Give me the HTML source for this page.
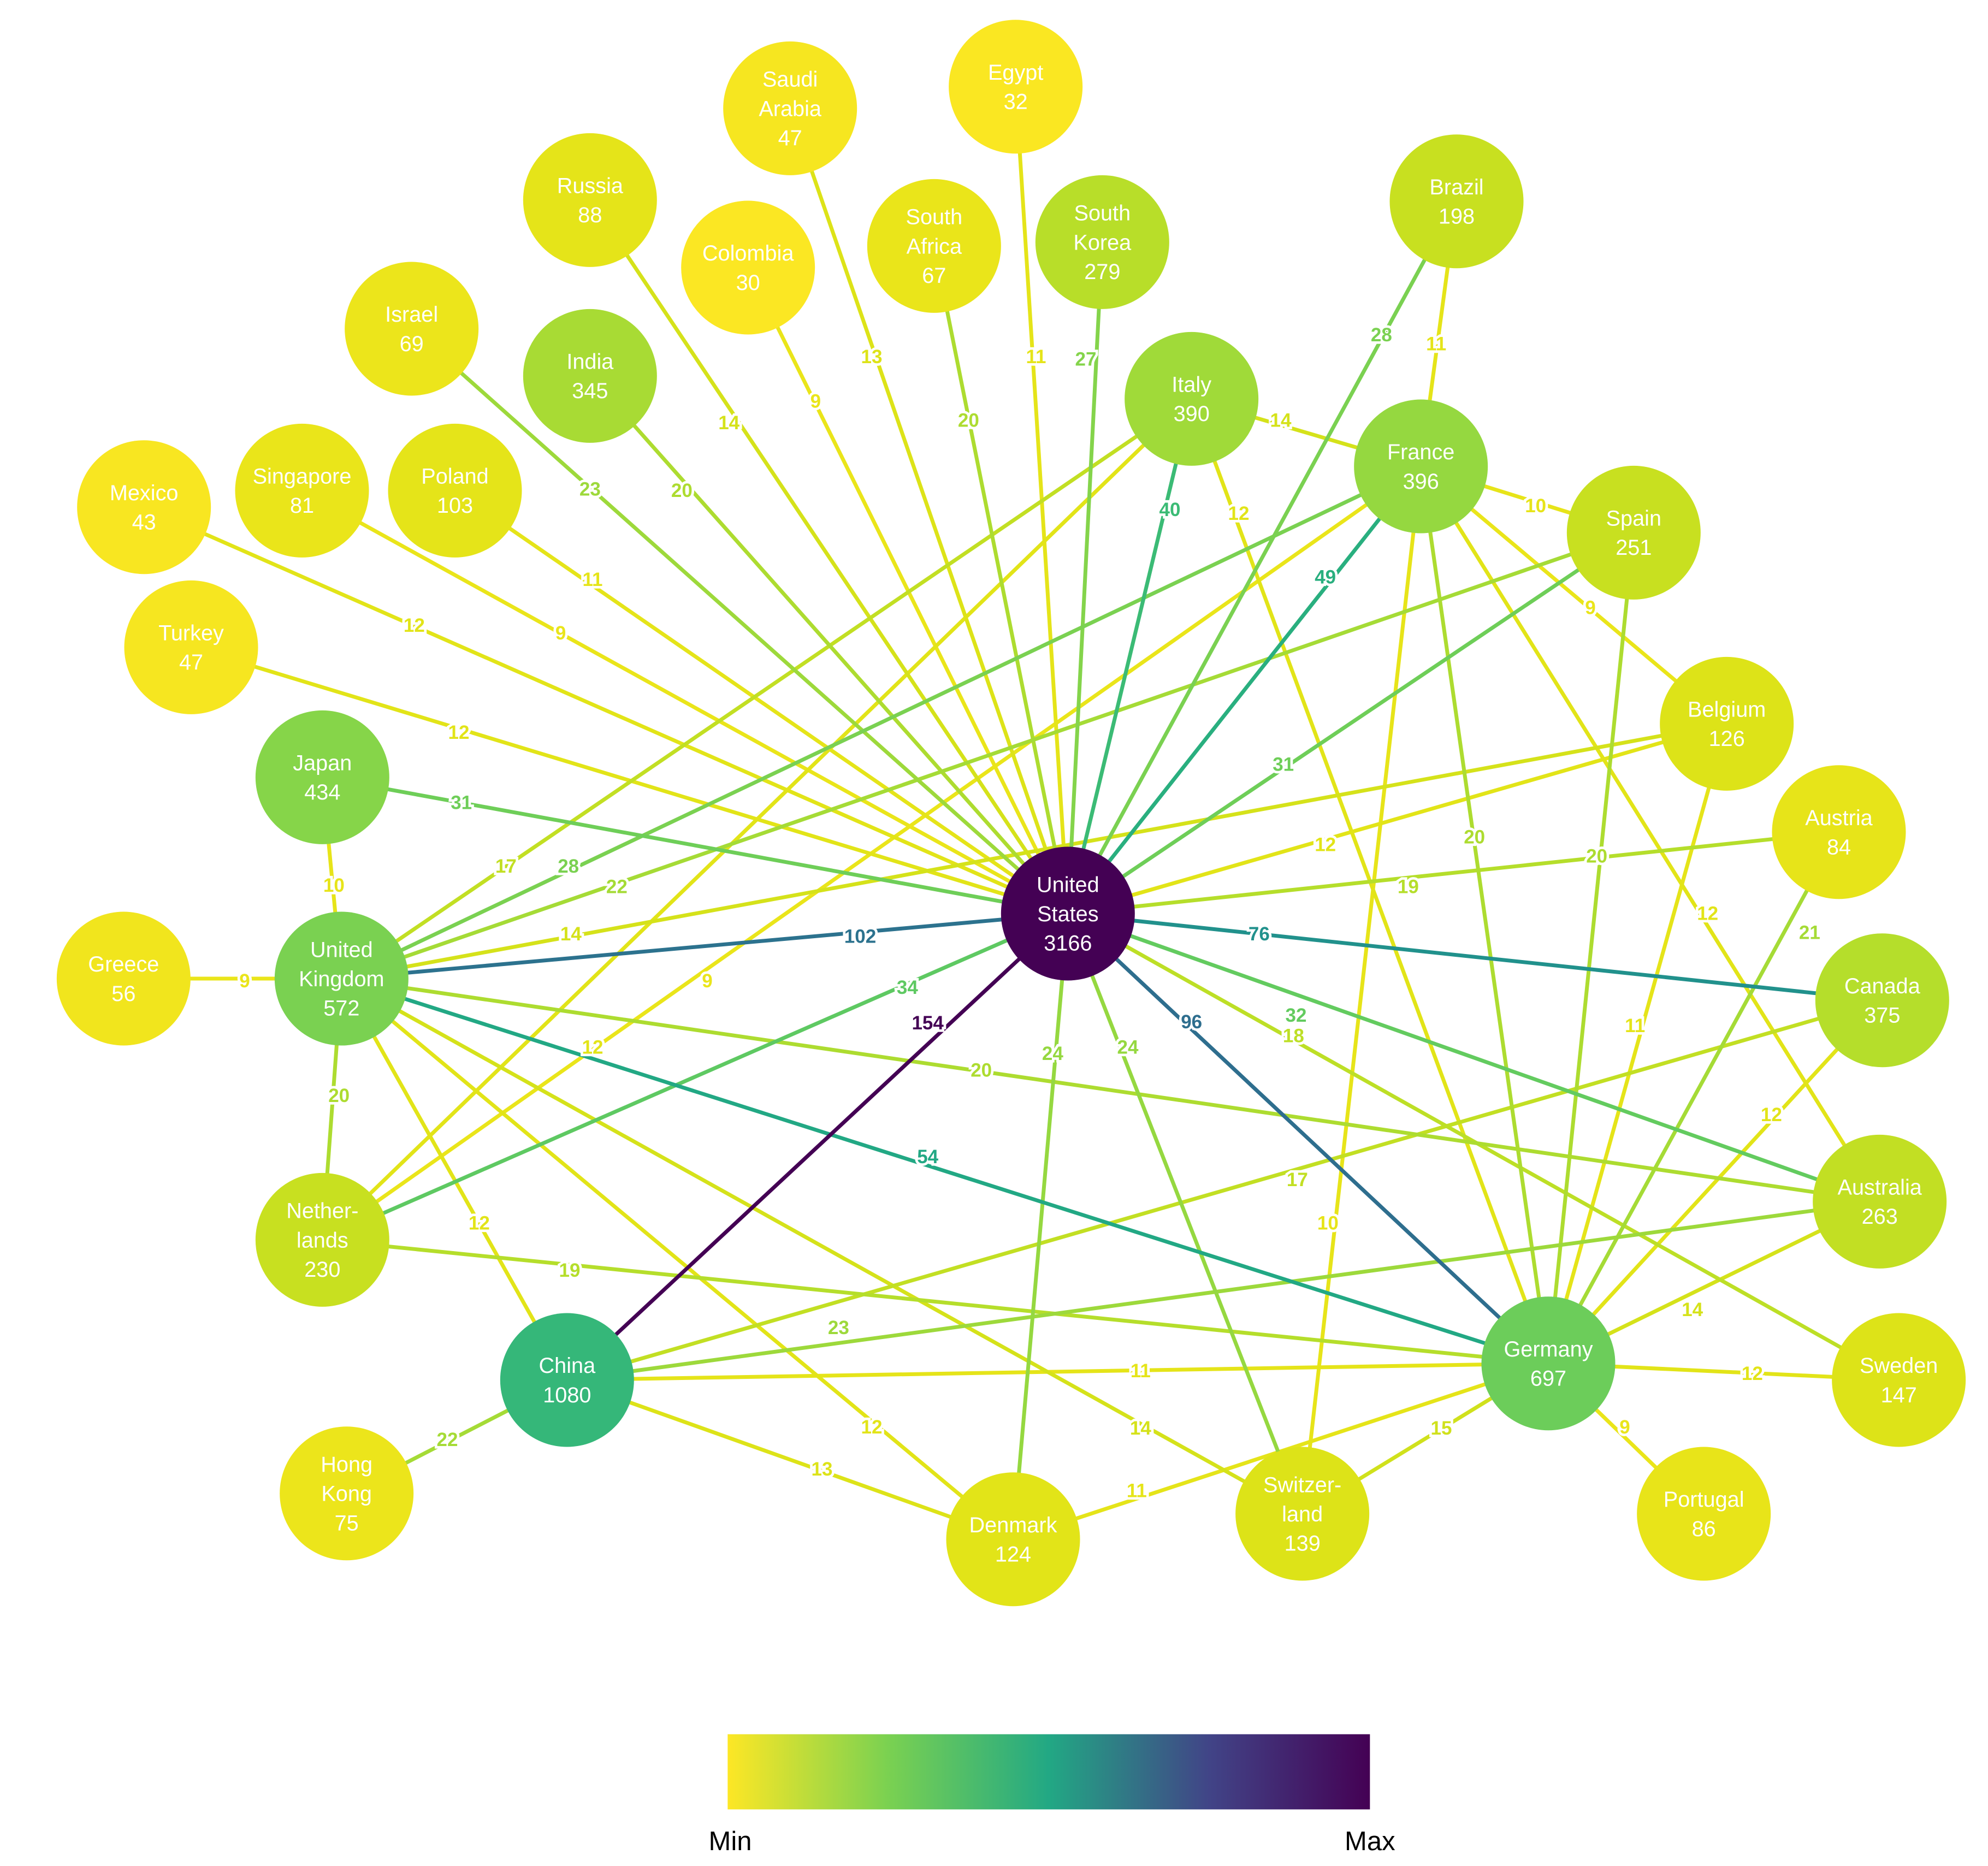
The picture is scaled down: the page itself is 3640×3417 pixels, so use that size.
<!DOCTYPE html>
<html><head><meta charset="utf-8"><style>
html,body{margin:0;padding:0;background:#fff;}
svg{display:block;}
.e{fill:none;stroke-width:3;}
.l{font-family:"Liberation Sans",sans-serif;font-size:15px;font-weight:bold;text-anchor:middle;dominant-baseline:central;paint-order:stroke;stroke:#fff;stroke-width:4px;}
.n{font-family:"Liberation Sans",sans-serif;font-size:17px;fill:#fff;text-anchor:middle;}
</style></head><body>
<svg width="3640" height="3417" viewBox="0 0 1560 1464.4" xmlns="http://www.w3.org/2000/svg">
<defs><linearGradient id="g" x1="0" x2="1"><stop offset="0" stop-color="#fde725"/><stop offset="0.25" stop-color="#7ad151"/><stop offset="0.5" stop-color="#22a884"/><stop offset="0.75" stop-color="#414487"/><stop offset="1" stop-color="#440154"/></linearGradient></defs>
<g id="edges"></g>
<g id="labels"></g>
<g id="nodes"></g>
<rect x="571" y="1361" width="504" height="59" fill="url(#g)"/>
<text x="573" y="1452" font-family="Liberation Sans,sans-serif" font-size="21" text-anchor="middle">Min</text>
<text x="1075" y="1452" font-family="Liberation Sans,sans-serif" font-size="21" text-anchor="middle">Max</text>
</svg>
<script>
var N={US:[838,717,"#440154",["United","States","3166"]],UK:[268,768,"#7ad151",["United","Kingdom","572"]],CN:[445,1083,"#35b779",["China","1080"]],DE:[1215,1070,"#6ccd5a",["Germany","697"]],FR:[1115,366,"#95d840",["France","396"]],IT:[935,313,"#a0da39",["Italy","390"]],JP:[253,610,"#86d549",["Japan","434"]],CA:[1477,785,"#b5de2b",["Canada","375"]],AU:[1475,943,"#c2df23",["Australia","263"]],NL:[253,973,"#c8e020",["Nether-","lands","230"]],ES:[1282,418,"#c8e020",["Spain","251"]],IN:[463,295,"#a8db34",["India","345"]],KR:[865,190,"#b8de29",["South","Korea","279"]],BR:[1143,158,"#c8e020",["Brazil","198"]],BE:[1355,568,"#dde318",["Belgium","126"]],SE:[1490,1083,"#dde318",["Sweden","147"]],CH:[1022,1188,"#dde318",["Switzer-","land","139"]],DK:[795,1208,"#e2e418",["Denmark","124"]],PL:[357,385,"#e5e419",["Poland","103"]],RU:[463,157,"#e5e419",["Russia","88"]],AT:[1443,653,"#e7e419",["Austria","84"]],PT:[1337,1188,"#e8e419",["Portugal","86"]],SG:[237,385,"#eae51a",["Singapore","81"]],HK:[272,1172,"#ece51b",["Hong","Kong","75"]],IL:[323,258,"#ece51b",["Israel","69"]],ZA:[733,193,"#eae51a",["South","Africa","67"]],GR:[97,768,"#f1e51d",["Greece","56"]],SA:[620,85,"#f6e620",["Saudi","Arabia","47"]],TR:[150,508,"#f6e620",["Turkey","47"]],MX:[113,398,"#f8e621",["Mexico","43"]],EG:[797,68,"#fae722",["Egypt","32"]],CO:[587,210,"#fbe723",["Colombia","30"]]};
var E=[["US","CN",154,728,803,"#440154",4],["US","UK",102,675,735,"#2c728e"],["US","DE",96,935,802,"#2e6e8e"],["US","CA",76,988,733,"#21918c"],["UK","DE",54,728,908,"#22a884"],["US","FR",49,1040,453,"#29af7f"],["US","IT",40,918,400,"#3bbb75"],["US","NL",34,712,775,"#5ec962"],["US","AU",32,1017,797,"#63cb5f"],["US","JP",31,362,630,"#6ece58"],["US","ES",31,1007,600,"#6ece58"],["US","BR",28,1084,263,"#7ad151"],["UK","FR",28,446,680,"#7ad151"],["US","KR",27,852,282,"#84d44b"],["US","DK",24,826,827,"#95d840"],["US","CH",24,885,822,"#95d840"],["US","IL",23,463,384,"#9dd93b"],["CN","AU",23,658,1042,"#9dd93b"],["UK","ES",22,484,696,"#a5db36"],["CN","HK",22,351,1130,"#a5db36"],["US","IN",20,535,385,"#addc30"],["US","ZA",20,760,330,"#addc30"],["UK","NL",20,266,860,"#addc30"],["UK","AU",20,770,840,"#addc30"],["FR","DE",20,1157,657,"#addc30"],["ES","DE",20,1253,672,"#addc30"],["US","AT",19,1105,696,"#b5de2b"],["NL","DE",19,447,997,"#b5de2b"],["US","SE",18,1015,813,"#bddf26"],["UK","IT",17,397,680,"#c2df23"],["CN","CA",17,1018,926,"#c2df23"],["DE","CH",15,1131,1121,"#d0e11c"],["US","RU",14,572,332,"#d5e21a"],["UK","BE",14,448,733,"#d5e21a"],["IT","FR",14,1005,330,"#d5e21a"],["UK","CH",14,895,1121,"#d5e21a"],["AU","DE",14,1328,1028,"#d5e21a"],["US","SA",13,684,280,"#dde318"],["CN","DK",13,645,1153,"#dde318"],["US","MX",12,325,491,"#e2e418"],["US","TR",12,360,575,"#e2e418"],["US","BE",12,1040,663,"#e2e418"],["IT","DE",12,972,403,"#e2e418"],["FR","AU",12,1340,717,"#e2e418"],["UK","CN",12,376,960,"#e2e418"],["NL","IT",12,465,822,"#e2e418"],["UK","DK",12,684,1120,"#e2e418"],["CA","DE",12,1390,875,"#e2e418"],["DE","SE",12,1375,1078,"#e2e418"],["US","PL",11,465,455,"#e5e419"],["US","EG",11,813,280,"#e5e419"],["FR","BR",11,1127,270,"#e5e419"],["BE","DE",11,1283,805,"#e5e419"],["CN","DE",11,895,1076,"#e5e419"],["DK","DE",11,892,1170,"#e5e419"],["FR","ES",10,1205,397,"#e7e419"],["UK","JP",10,262,695,"#e7e419"],["FR","CH",10,1042,960,"#e7e419"],["US","SG",9,440,497,"#eae51a"],["US","CO",9,640,315,"#eae51a"],["UK","GR",9,192,770,"#eae51a"],["FR","BE",9,1248,477,"#eae51a"],["NL","FR",9,555,770,"#eae51a"],["DE","PT",9,1275,1120,"#eae51a"],["AT","DE",21,1420,732,"#a5db36"]];
var ns="http://www.w3.org/2000/svg",ge=document.getElementById("edges"),gl=document.getElementById("labels"),gn=document.getElementById("nodes");
function el(t,a,p){var e=document.createElementNS(ns,t);for(var k in a)e.setAttribute(k,a[k]);p.appendChild(e);return e;}
E.sort(function(a,b){return a[2]-b[2];});
E.forEach(function(e){var a=N[e[0]],b=N[e[1]];el("line",{x1:a[0],y1:a[1],x2:b[0],y2:b[1],stroke:e[5],"class":"e","stroke-width":e[6]||3},ge);var t=el("text",{x:e[3],y:e[4],fill:e[5],"class":"l"},gl);t.textContent=e[2];});
for(var k in N){var n=N[k];el("circle",{cx:n[0],cy:n[1],r:52.5,fill:n[2]},gn);var L=n[3],y0=n[1]-(L.length-1)*11.5+6;L.forEach(function(s,i){var t=el("text",{x:n[0],y:y0+i*23,"class":"n"},gn);t.textContent=s;});}
</script>
</body></html>
